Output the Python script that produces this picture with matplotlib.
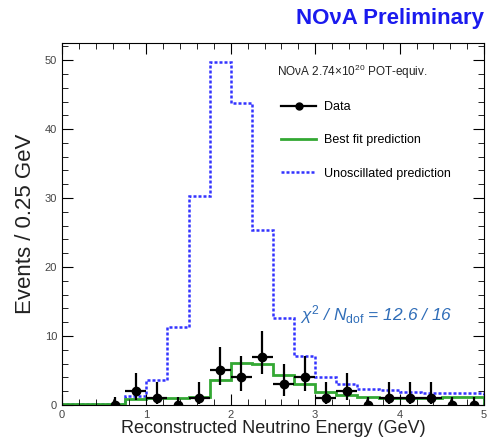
import numpy as np
import matplotlib
matplotlib.use("Agg")
import matplotlib.pyplot as plt
from matplotlib.ticker import MultipleLocator
from matplotlib.lines import Line2D

plt.rcParams['font.family'] = ['Liberation Sans', 'DejaVu Sans']
plt.rcParams['mathtext.fontset'] = 'custom'
plt.rcParams['mathtext.it'] = 'Liberation Sans:italic'
plt.rcParams['mathtext.rm'] = 'Liberation Sans'

# binning (0.25 GeV bins from 0 to 5 GeV)
bin_edges = np.arange(0, 5.01, 0.25)

# unoscillated prediction per bin
unosc = [0.2, 0.2, 0.2, 1.3, 3.6, 11.3, 30.3, 49.8, 43.8, 25.3,
         12.6, 7.1, 4.1, 3.1, 2.3, 2.2, 1.9, 1.8, 1.8, 1.8]
# best fit prediction per bin
bestfit = [0.2, 0.2, 0.2, 0.8, 1.0, 1.0, 1.2, 3.6, 6.1, 6.0,
           4.3, 3.1, 1.9, 1.4, 1.1, 1.0, 1.0, 1.0, 1.1, 1.2]

# data, bins from 0.5 GeV onwards
data_x = [0.625, 0.875, 1.125, 1.375, 1.625, 1.875, 2.125, 2.375, 2.625,
          2.875, 3.125, 3.375, 3.625, 3.875, 4.125, 4.375, 4.625, 4.875]
data_y = [0, 2, 1, 0, 1, 5, 4, 7, 3, 4, 1, 2, 0, 1, 1, 1, 0, 0]
err_lo = [0, 1.29, 0.83, 0, 0.83, 2.16, 1.91, 2.58, 1.63,
          1.91, 0.83, 1.29, 0, 0.83, 0.83, 0.83, 0, 0]
err_hi = [1.15, 2.64, 2.30, 1.15, 2.30, 3.38, 3.16, 3.77, 2.92,
          3.16, 2.30, 2.64, 1.15, 2.30, 2.30, 2.30, 1.15, 1.15]

blue = '#3333ff'
green = '#33a833'
dots = (0, (1.2, 0.8))

fig = plt.figure(figsize=(4.87, 4.47), dpi=100)
ax = fig.add_axes([0.127, 0.094, 0.867, 0.810])

ax.stairs(unosc, bin_edges, color=blue, lw=1.8, linestyle=dots)
ax.stairs(bestfit, bin_edges, color=green, lw=2.0)
xerr = np.where(np.array(data_y) > 0, 0.125, 0)
ax.errorbar(data_x, data_y, yerr=[err_lo, err_hi], xerr=xerr, fmt='o',
            color='black', ms=6, lw=1.6, capsize=0)

ax.set_xlim(0, 5)
ax.set_ylim(0, 52.5)
ax.xaxis.set_major_locator(MultipleLocator(1))
ax.xaxis.set_minor_locator(MultipleLocator(0.2))
ax.yaxis.set_major_locator(MultipleLocator(10))
ax.yaxis.set_minor_locator(MultipleLocator(2))
ax.tick_params(which='both', direction='in', top=True, right=True,
               labelsize=8, labelcolor='#444444')
ax.tick_params(which='major', length=8)
ax.tick_params(which='minor', length=4)

ax.set_xlabel('Reconstructed Neutrino Energy (GeV)', fontsize=13, labelpad=0,
              color='#222222')
ax.set_ylabel('Events / 0.25 GeV', fontsize=16, labelpad=6, color='#222222')

fig.text(0.993, 0.958, 'NO\u03bdA Preliminary', color='#1a1aee',
         fontsize=16, fontweight='bold', ha='right', va='center')

ax.text(0.51, 0.92, 'NO\u03bdA 2.74\u00d710$^{20}$ POT-equiv.',
        transform=ax.transAxes, fontsize=8.5, color='#222222', va='center')

handles = [
    Line2D([], [], color='black', marker='o', ms=5, lw=1.6),
    Line2D([], [], color=green, lw=2.0),
    Line2D([], [], color=blue, lw=1.8, linestyle=dots),
]
ax.legend(handles, ['Data', 'Best fit prediction', 'Unoscillated prediction'],
          loc='upper left', bbox_to_anchor=(0.493, 0.87), frameon=False,
          fontsize=9, handlelength=2.8, labelspacing=1.7, handletextpad=0.6)

ax.text(0.565, 0.25, r'$\chi^2$ / $N_{\mathrm{dof}}$ = 12.6 / 16',
        transform=ax.transAxes, fontsize=12.5, color='#2f6db8',
        style='italic', va='center')

fig.savefig('out.png', dpi=100)
